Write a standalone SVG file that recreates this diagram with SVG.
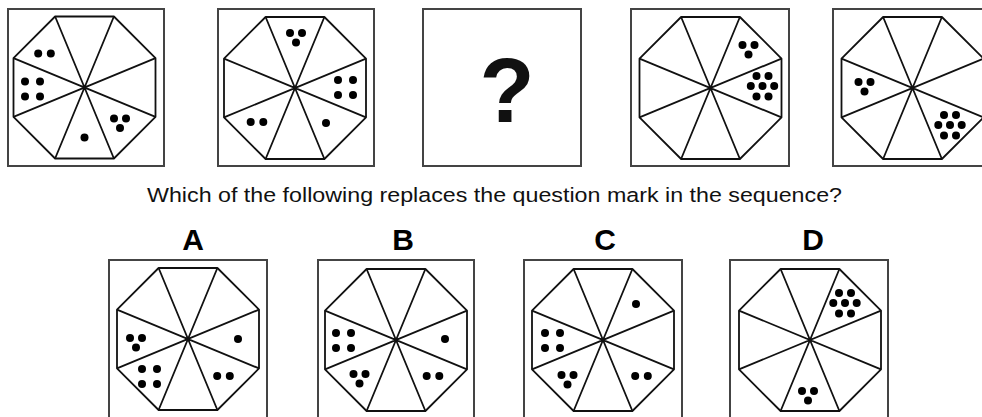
<svg xmlns="http://www.w3.org/2000/svg" xmlns:xlink="http://www.w3.org/1999/xlink" width="982" height="417" viewBox="0 0 982 417">
<style>
.box{fill:none;stroke:#444;stroke-width:2}
.oct{fill:none;stroke:#111;stroke-width:1.8;stroke-linejoin:round}
.d{fill:#000}
.lbl{font-family:"Liberation Sans",Arial,sans-serif;font-weight:bold;fill:#000;text-anchor:middle}
.q{font-family:"Liberation Sans",Arial,sans-serif;fill:#111}
</style>
<defs>
<g id="oct" class="oct">
<polygon points="-29.4,-71 29.4,-71 71,-29.4 71,29.4 29.4,71 -29.4,71 -71,29.4 -71,-29.4"/>
<path d="M-29.4,-71 L29.4,71 M29.4,-71 L-29.4,71 M71,-29.4 L-71,29.4 M71,29.4 L-71,-29.4"/>
</g>
<g id="four"><circle class="d" cx="0" cy="0" r="4"/><circle class="d" cx="15" cy="0" r="4"/><circle class="d" cx="0" cy="15" r="4"/><circle class="d" cx="15" cy="15" r="4"/></g>
<g id="three"><circle class="d" cx="-6" cy="-4" r="4"/><circle class="d" cx="6" cy="-4" r="4"/><circle class="d" cx="0" cy="5.5" r="4"/></g>
<g id="two"><circle class="d" cx="-6.3" cy="0" r="4"/><circle class="d" cx="6.3" cy="0" r="4"/></g>
<g id="seven"><circle class="d" cx="-6" cy="-10" r="4"/><circle class="d" cx="6" cy="-10" r="4"/><circle class="d" cx="-11.7" cy="0" r="4"/><circle class="d" cx="0" cy="0" r="4"/><circle class="d" cx="11.7" cy="0" r="4"/><circle class="d" cx="-6" cy="10.5" r="4"/><circle class="d" cx="6" cy="10.5" r="4"/></g>
</defs>

<g id="panel1">
<rect class="box" x="8" y="9" width="156" height="157"/>
<g transform="translate(84.5,87.5)">
<use xlink:href="#oct"/>
<use xlink:href="#two" x="-40" y="-34"/>
<use xlink:href="#four" x="-59.5" y="-6"/>
<use xlink:href="#three" x="35.5" y="35"/>
<circle class="d" cx="0" cy="50" r="4"/>
</g>
</g>

<g id="panel2">
<rect class="box" x="218" y="9" width="156" height="157"/>
<g transform="translate(295,88)">
<use xlink:href="#oct"/>
<use xlink:href="#three" x="1" y="-51"/>
<use xlink:href="#four" x="43" y="-8"/>
<use xlink:href="#two" x="-38" y="34"/>
<circle class="d" cx="31" cy="35" r="4"/>
</g>
</g>

<g id="panel3">
<rect class="box" x="423" y="9" width="158" height="157"/>
<text class="q" x="507" y="122" font-size="90" font-weight="bold" text-anchor="middle">?</text>
</g>

<g id="panel4">
<rect class="box" x="631" y="9" width="158" height="157"/>
<g transform="translate(710.5,88)">
<use xlink:href="#oct"/>
<use xlink:href="#three" x="38" y="-39"/>
<use xlink:href="#seven" x="52" y="-2"/>
</g>
</g>

<g id="panel5">
<rect class="box" x="833" y="9" width="160" height="157"/>
<g transform="translate(912.5,88)">
<use xlink:href="#oct"/>
<use xlink:href="#three" x="-48" y="-2"/>
<use xlink:href="#seven" x="37.5" y="37"/>
</g>
</g>

<text id="question" class="q" x="147" y="202" font-size="20.5" textLength="695" lengthAdjust="spacingAndGlyphs">Which of the following replaces the question mark in the sequence?</text>

<g id="optionA">
<text class="lbl" x="193" y="250" font-size="30">A</text>
<rect class="box" x="109" y="260" width="158" height="170"/>
<g transform="translate(188,339)">
<use xlink:href="#oct"/>
<use xlink:href="#three" x="-52" y="3"/>
<circle class="d" cx="50" cy="0" r="4"/>
<use xlink:href="#four" x="-46" y="30"/>
<use xlink:href="#two" x="35.5" y="37"/>
</g>
</g>

<g id="optionB">
<text class="lbl" x="403" y="250" font-size="30">B</text>
<rect class="box" x="318" y="260" width="156" height="170"/>
<g transform="translate(396,340)">
<use xlink:href="#oct"/>
<use xlink:href="#four" x="-60" y="-7"/>
<circle class="d" cx="49" cy="-1" r="4"/>
<use xlink:href="#three" x="-36.5" y="38"/>
<use xlink:href="#two" x="37" y="36"/>
</g>
</g>

<g id="optionC">
<text class="lbl" x="605" y="250" font-size="30">C</text>
<rect class="box" x="524" y="260" width="158" height="170"/>
<g transform="translate(603,340)">
<use xlink:href="#oct"/>
<circle class="d" cx="33" cy="-36" r="4"/>
<use xlink:href="#four" x="-58" y="-7"/>
<use xlink:href="#three" x="-35.5" y="39"/>
<use xlink:href="#two" x="38.5" y="36"/>
</g>
</g>

<g id="optionD">
<text class="lbl" x="813" y="250" font-size="30">D</text>
<rect class="box" x="730" y="260" width="158" height="170"/>
<g transform="translate(810,340)">
<use xlink:href="#oct"/>
<use xlink:href="#seven" x="35" y="-37"/>
<use xlink:href="#three" x="-2" y="55"/>
</g>
</g>
</svg>
